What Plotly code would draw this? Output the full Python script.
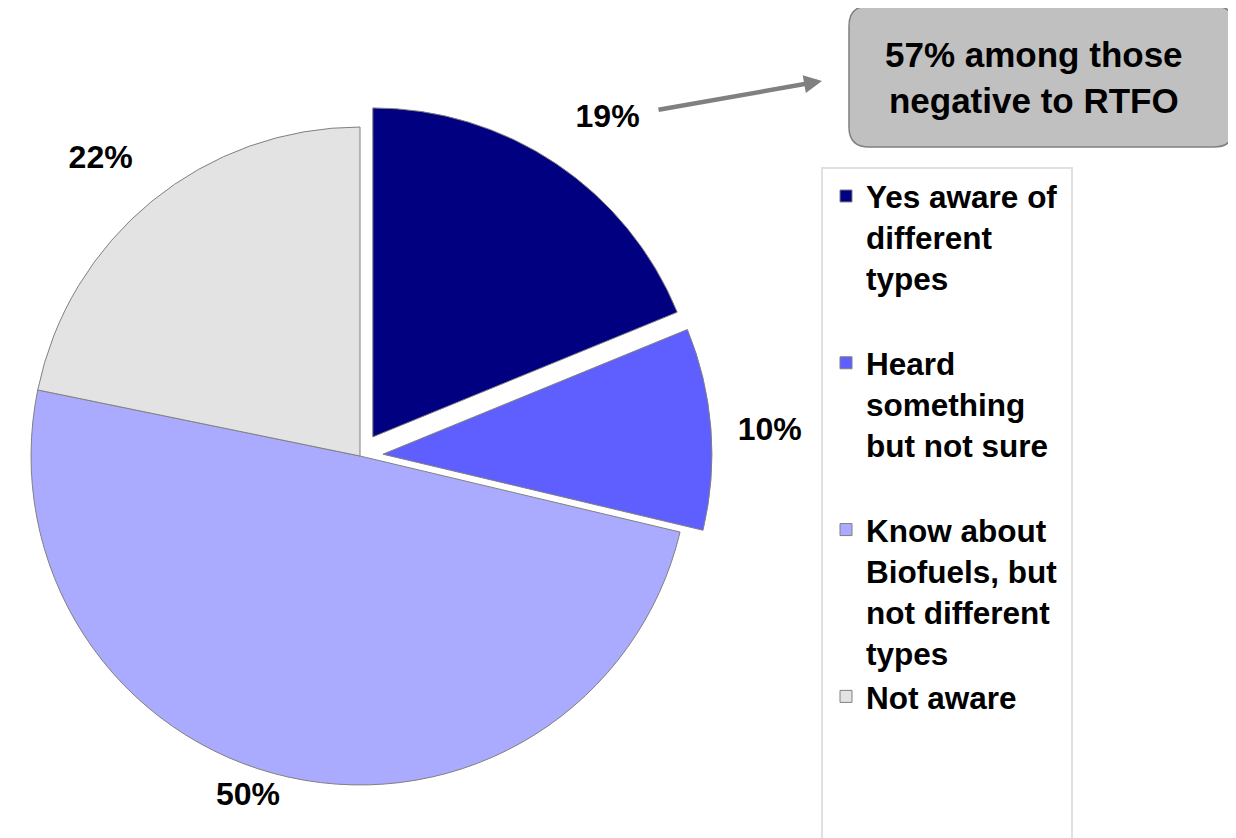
import plotly.graph_objects as go

# ---- data ----
labels = [
    "Yes aware of<br>different<br>types<br> ",
    "Heard<br>something<br>but not sure<br> ",
    "Know about<br>Biofuels, but<br>not different<br>types",
    "Not aware",
]
values = [19, 10, 50, 22]
colors = ["#000080", "#5F5FFF", "#AAAAFF", "#E3E3E3"]
pulls = [0.07, 0.07, 0, 0]
label_templates = [
    "%{value}%<br>\u00a0",
    "\u00a0\u00a0%{value}%",
    "%{value}%",
    "%{value}%<br>\u00a0",
]
callout_text = "57% among those<br>negative to RTFO"

# page body has an 8px margin; size the figure so it fits the window
OFF = 8
W, H = 1236 - OFF, 838 - OFF
FONT = "Arial, 'Liberation Sans', sans-serif"


def sx(x):
    """screen x pixel -> paper fraction"""
    return (x - OFF) / W


def sy(y):
    """screen y pixel -> paper fraction"""
    return 1 - (y - OFF) / H


fig = go.Figure()
fig.add_trace(go.Pie(
    labels=labels,
    values=values,
    sort=False,
    direction="clockwise",
    rotation=0,
    pull=pulls,
    marker=dict(colors=colors, line=dict(color="#808080", width=1)),
    texttemplate=label_templates,
    textposition="outside",
    textfont=dict(family=FONT, size=32, color="black", weight="bold"),
    domain=dict(x=[0, sx(OFF + 704)], y=[sy(808), sy(104)]),
    hoverinfo="label+value",
))

# rounded callout box
x0, x1, y0, y1, r = 849, 1234, 6, 147, 20


def P(x, y):
    return f"{sx(x):.5f},{sy(y):.5f}"


path = (
    f"M {P(x0 + r, y0)} L {P(x1 - r, y0)} Q {P(x1, y0)} {P(x1, y0 + r)} "
    f"L {P(x1, y1 - r)} Q {P(x1, y1)} {P(x1 - r, y1)} "
    f"L {P(x0 + r, y1)} Q {P(x0, y1)} {P(x0, y1 - r)} "
    f"L {P(x0, y0 + r)} Q {P(x0, y0)} {P(x0 + r, y0)} Z"
)

shapes = [
    dict(type="path", xref="paper", yref="paper", path=path,
         fillcolor="#C0C0C0", line=dict(color="#808080", width=1.5)),
    dict(type="rect", xref="paper", yref="paper",
         x0=sx(822), x1=sx(1072), y0=sy(850), y1=sy(168),
         line=dict(color="#E0E0E0", width=2), fillcolor="rgba(0,0,0,0)",
         layer="below"),
]

annotations = [
    dict(xref="paper", yref="paper", x=sx(1034), y=sy(78),
         text=callout_text, showarrow=False, align="center",
         font=dict(family=FONT, size=35, color="black", weight="bold"),
         xanchor="center", yanchor="middle"),
    dict(xref="paper", yref="paper", x=sx(822), y=sy(81), text="",
         showarrow=True, ax=657 - 822, ay=110 - 81,
         arrowhead=2, arrowsize=0.8, arrowwidth=4.5, arrowcolor="#808080",
         standoff=0, startstandoff=0),
]

fig.update_layout(
    width=W, height=H,
    margin=dict(l=0, r=0, t=0, b=0, autoexpand=False),
    paper_bgcolor="white",
    plot_bgcolor="white",
    showlegend=True,
    legend=dict(
        x=sx(826), y=sy(169), xanchor="left", yanchor="top",
        valign="top", bgcolor="rgba(0,0,0,0)", borderwidth=0,
        font=dict(family=FONT, size=31.5, color="black", weight="bold"),
        traceorder="normal",
    ),
    shapes=shapes,
    annotations=annotations,
)

fig.write_html("out.html")
